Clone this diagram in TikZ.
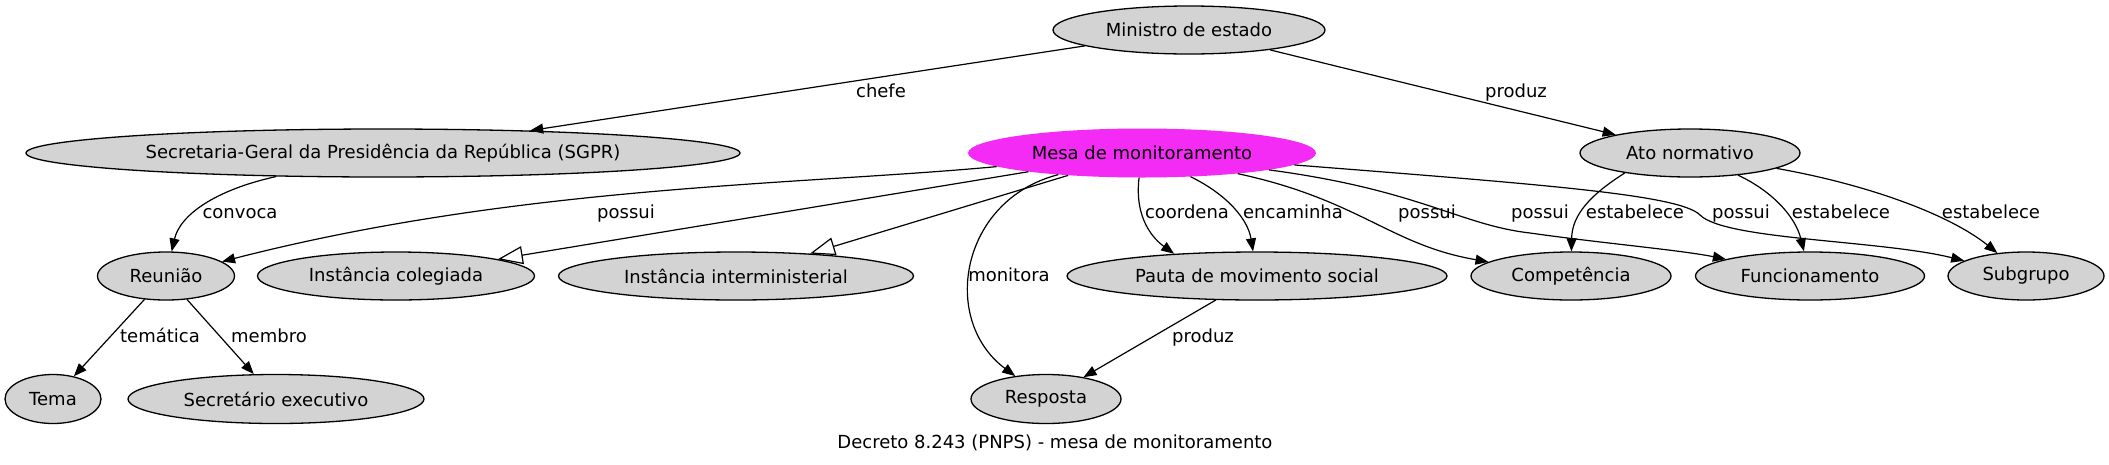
\documentclass[tikz,border=0pt]{standalone}
\usepackage{fontspec}
\setmainfont{DejaVu Sans}
\usetikzlibrary{shapes.geometric,arrows.meta}
\definecolor{nodegray}{RGB}{211,211,211}
\definecolor{mesamag}{RGB}{244,43,244}
\begin{document}
\begin{tikzpicture}[x=1pt,y=-1pt,
  font=\fontsize{18}{22}\selectfont,
  gnode/.style={ellipse,draw=black,line width=1.3pt,fill=nodegray,inner sep=0pt},
  edge/.style={line width=1.2pt,-{Triangle[length=13pt,width=10pt]}},
  oedge/.style={line width=1.2pt,-{Triangle[open,length=25pt,width=18pt]}},
  lbl/.style={inner sep=0pt,anchor=base}]
\useasboundingbox (0,0) rectangle (2109,464);
% nodes
\node[gnode,minimum width=272pt,minimum height=48pt] (min) at (1189,30) {Ministro de estado};
\node[gnode,minimum width=714pt,minimum height=48pt] (sgpr) at (383,153) {Secretaria-Geral da Presidência da República (SGPR)};
\node[ellipse,fill=mesamag,inner sep=0pt,minimum width=348pt,minimum height=49pt] (mesa) at (1142,153) {Mesa de monitoramento};
\node[gnode,minimum width=220pt,minimum height=48pt] (ato) at (1690,153) {Ato normativo};
\node[gnode,minimum width=137pt,minimum height=48pt] (reuniao) at (166,276) {Reunião};
\node[gnode,minimum width=277pt,minimum height=48pt] (icol) at (396,276) {Instância colegiada};
\node[gnode,minimum width=355pt,minimum height=48pt] (iint) at (736,276) {Instância interministerial};
\node[gnode,minimum width=380pt,minimum height=48pt] (pauta) at (1257,276) {Pauta de movimento social};
\node[gnode,minimum width=200pt,minimum height=48pt] (comp) at (1571,276) {Competência};
\node[gnode,minimum width=229pt,minimum height=48pt] (func) at (1810,276) {Funcionamento};
\node[gnode,minimum width=156pt,minimum height=48pt] (sub) at (2026,276) {Subgrupo};
\node[gnode,minimum width=96pt,minimum height=49pt] (tema) at (53,399) {Tema};
\node[gnode,minimum width=296pt,minimum height=49pt] (secex) at (276,399) {Secretário executivo};
\node[gnode,minimum width=150pt,minimum height=49pt] (resp) at (1046,399) {Resposta};
\node[lbl] (caption) at (1055,448) {Decreto 8.243 (PNPS) - mesa de monitoramento};
% waypoints
\coordinate (wf) at (1530,233);
\coordinate (ws) at (1700,215);
% edges
\draw[edge] (min) -- (sgpr);
\draw[edge] (min) -- (ato);
\draw[edge] (sgpr) .. controls (215,190) and (180,215) .. (reuniao);
\draw[edge] (mesa) .. controls (800,185) and (520,185) .. (reuniao);
\draw[oedge] (mesa) -- (icol);
\draw[oedge] (mesa) -- (iint);
\draw[edge] (mesa) .. controls (960,200) and (940,320) .. (resp);
\draw[edge] (mesa) .. controls (1134,220) and (1155,240) .. (pauta.165);
\draw[edge] (mesa) .. controls (1228,195) and (1248,220) .. (pauta);
\draw[edge] (mesa) .. controls (1360,200) and (1390,245) .. (comp);
\draw[edge] (mesa) .. controls (1420,190) and (1460,225) .. (wf) .. controls (1600,243) and (1680,250) .. (func);
\draw[edge] (mesa) .. controls (1550,185) and (1680,195) .. (ws) .. controls (1725,240) and (1880,240) .. (sub);
\draw[edge] (ato.197) .. controls (1590,195) and (1572,215) .. (comp);
\draw[edge] (ato) .. controls (1770,190) and (1795,215) .. (func);
\draw[edge] (ato) .. controls (1870,185) and (1950,215) .. (sub);
\draw[edge] (reuniao) -- (tema);
\draw[edge] (reuniao) -- (secex);
\draw[edge] (pauta) -- (resp);
% edge labels
\node[lbl] (l1) at (881,97) {chefe};
\node[lbl] (l2) at (1516,97) {produz};
\node[lbl] (l3) at (240,218) {convoca};
\node[lbl] (l4) at (626,218) {possui};
\node[lbl] (l5) at (1187,218) {coordena};
\node[lbl] (l6) at (1293,218) {encaminha};
\node[lbl] (l7) at (1427,218) {possui};
\node[lbl] (l8) at (1540,218) {possui};
\node[lbl] (l9) at (1635,218) {estabelece};
\node[lbl] (l10) at (1741,218) {possui};
\node[lbl] (l11) at (1841,218) {estabelece};
\node[lbl] (l12) at (1991,218) {estabelece};
\node[lbl] (l13) at (1009,281) {monitora};
\node[lbl] (l14) at (160,342) {temática};
\node[lbl] (l15) at (269,342) {membro};
\node[lbl] (l16) at (1203,342) {produz};
\end{tikzpicture}
\end{document}
